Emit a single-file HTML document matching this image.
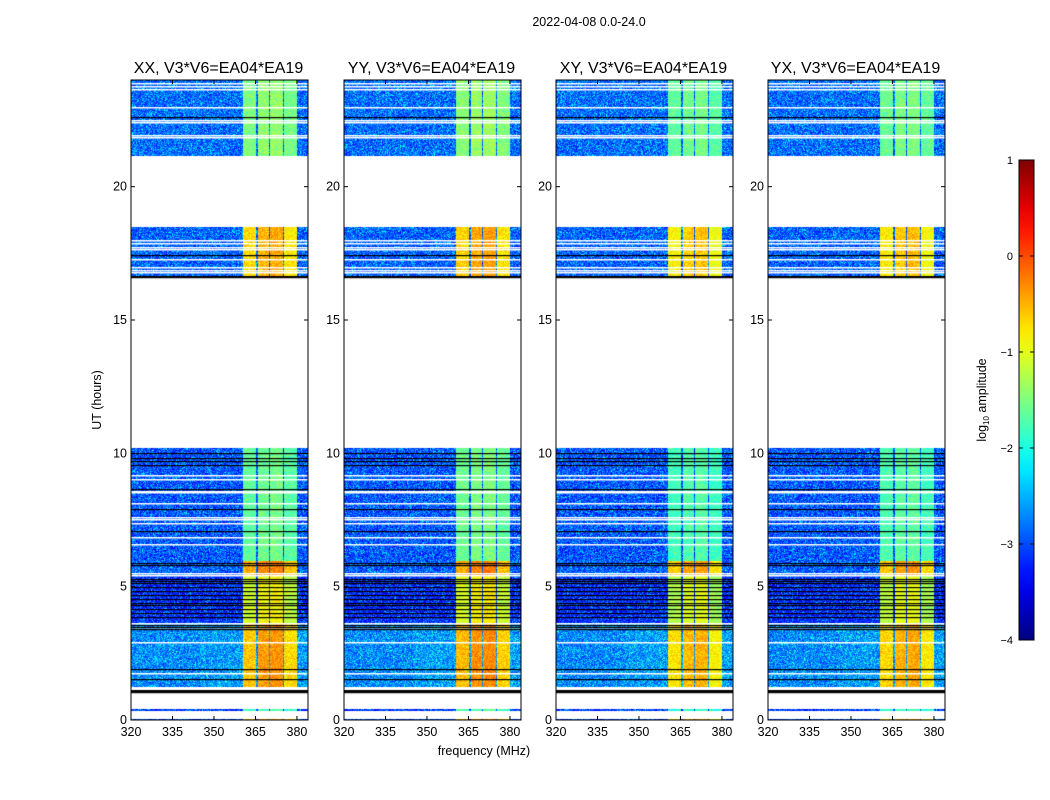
<!DOCTYPE html>
<html><head><meta charset="utf-8">
<style>
body{margin:0;background:#fff;width:1050px;height:800px;overflow:hidden;font-family:"Liberation Sans","DejaVu Sans",sans-serif;}
#root{position:relative;width:1050px;height:800px;}
</style></head><body>
<div id="root">
<svg id="svg" width="1050" height="800" style="position:absolute;left:0;top:0"></svg>
</div>
<script>
// ---- data ----
const panelTitles = ["XX, V3*V6=EA04*EA19","YY, V3*V6=EA04*EA19","XY, V3*V6=EA04*EA19","YX, V3*V6=EA04*EA19"];
const panelBandGain = [0, 0.05, -0.15, -0.1];
const xTicks = [320,335,350,365,380];
const yTicks = [0,5,10,15,20];
const cbTicks = [1,0,-1,-2,-3,-4];
const segStart = [0.0, 0.33, 1.25, 3.6, 5.45, 5.95, 16.6, 21.15];
const segEnd   = [0.05, 0.42, 3.6, 5.45, 5.95, 10.2, 18.5, 24.0];
const segBg    = [-3.0, -3.1, -2.7, -3.15, -2.9, -2.95, -2.9, -2.85];
const segBand  = [-0.6, -1.8, -0.6, -1.1, -0.5, -1.65, -0.7, -1.5];
const subBandStart = [360.4, 365.8, 370.3, 375.3];
const subBandEnd   = [365.3, 369.8, 374.8, 380.0];
const subBandOffset = [0.0, 0.2, 0.25, -0.1];
const whiteLines = [23.9,23.78,23.68,23.0,22.5,22.42,21.92,21.85,18.0,17.88,17.75,17.65,17.3,17.0,16.88,16.8,9.2,9.03,8.6,8.55,8.13,7.6,7.55,7.37,6.85,6.59,5.5,5.45,3.62,3.47,2.91,1.75];
const blackLines = [22.62,17.42,16.66,16.62,10.0,9.82,9.7,9.55,8.66,7.9,7.1,5.88,5.82,5.3,5.22,5.12,4.98,4.85,4.7,4.55,4.4,4.3,4.15,4.02,3.88,3.55,3.5,3.43,1.93,1.55,1.12,1.09,1.06];

// ---- layout ----
const panelX = [131,344,556,768], PW=177, PT=80, PB=720;
const fMin=320, fMax=384;
const xs = (f,i)=>panelX[i]+(f-fMin)/(fMax-fMin)*PW;
const ys = h=>PB-(h/24)*(PB-PT);
const cbX=1019, cbW=15, cbT=160, cbB=640;
const cy = v=>cbT+(1-v)/5*(cbB-cbT);

function jet(v){
  const c=x=>Math.max(0,Math.min(1,x));
  const r=c(1.5-Math.abs(4*v-3)), g=c(1.5-Math.abs(4*v-2)), b=c(1.5-Math.abs(4*v-1));
  return [r*255|0,g*255|0,b*255|0];
}
function hash(a,b){let h=(a*374761393+b*668265263)|0;h=(h^(h>>>13))*1274126177|0;return ((h^(h>>>16))>>>0)/4294967296;}

const NS="http://www.w3.org/2000/svg";
const svg=document.getElementById('svg');
function el(tag,attrs,parent){const e=document.createElementNS(NS,tag);for(const k in attrs)e.setAttribute(k,attrs[k]);(parent||svg).appendChild(e);return e;}
function txt(x,y,s,size,anchor,parent){const e=el('text',{x:x,y:y,'font-size':size,'text-anchor':anchor||'middle','font-family':'Liberation Sans, sans-serif',fill:'#000'},parent);e.textContent=s;return e;}

function levelAt(h,f,i,px,py){
  let seg=-1;
  for(let k=0;k<segStart.length;k++) if(h>=segStart[k]&&h<segEnd[k]) seg=k;
  if(seg<0) return null;
  const n=hash(px+i*1000,py);
  let v=segBg[seg]+(n-0.5)*0.9+(n>0.9?0.3:0);
  if(f>345 && seg===2) v+=0.1;
  for(let b=0;b<4;b++){
    if(f>=subBandStart[b]&&f<subBandEnd[b]){
      v=segBand[seg]+subBandOffset[b]*(segBand[seg]>-1.2?1:0.4)+panelBandGain[i]+(hash(px*7+i,py*3)-0.5)*0.5;
    }
  }
  return v;
}

for(let i=0;i<4;i++){
  const g=el('g',{},svg);
  
  
  const cv=document.createElement('canvas');cv.width=PW;cv.height=PB-PT;
  const ctx=cv.getContext('2d');const im=ctx.createImageData(PW,PB-PT);
  for(let py=0;py<PB-PT;py++){
    const h=24-(py+0.5)/(PB-PT)*24;
    for(let px=0;px<PW;px++){
      const f=fMin+(px+0.5)/PW*(fMax-fMin);
      const v=levelAt(h,f,i,px,py);
      const o=(py*PW+px)*4;
      if(v===null){im.data[o]=255;im.data[o+1]=255;im.data[o+2]=255;im.data[o+3]=255;continue;}
      const c=jet(Math.max(0,Math.min(1,(v+4)/5)));
      im.data[o]=c[0];im.data[o+1]=c[1];im.data[o+2]=c[2];im.data[o+3]=255;
    }
  }
  ctx.putImageData(im,0,0);
  ctx.fillStyle='#fff';
  whiteLines.forEach(h=>{ctx.fillRect(0,Math.round(ys(h)-PT),PW,1.5);});
  ctx.fillStyle='#000';
  blackLines.forEach(h=>{ctx.fillRect(0,Math.round(ys(h)-PT),PW,1.2);});
  const img=el('image',{x:panelX[i],y:PT,width:PW,height:PB-PT,href:cv.toDataURL()},g);
  
  
  el('rect',{x:panelX[i],y:PT,width:PW,height:PB-PT,fill:'none',stroke:'#000','stroke-width':1},g);
  const t=txt(panelX[i]+PW/2-1,73,panelTitles[i],16,'middle',g);
  
  
  xTicks.forEach(f=>{
    const x=xs(f,i);
    el('line',{x1:x,x2:x,y1:PB,y2:PB-4,stroke:'#000'},g);
    el('line',{x1:x,x2:x,y1:PT,y2:PT+4,stroke:'#000'},g);
    const l=txt(x,736,String(f),12.5,'middle',g);
    
    
  });
  yTicks.forEach(h=>{
    const y=ys(h);
    el('line',{x1:panelX[i],x2:panelX[i]+4,y1:y,y2:y,stroke:'#000'},g);
    el('line',{x1:panelX[i]+PW,x2:panelX[i]+PW-4,y1:y,y2:y,stroke:'#000'},g);
    const l=txt(panelX[i]-4,y+4,String(h),12.5,'end',g);
    
    
  });
}
const st=txt(589,26,'2022-04-08 0.0-24.0',12.5);


const xl=txt(484,755,'frequency (MHz)',12.5);


const yl=txt(0,0,'UT (hours)',12.5);yl.setAttribute('transform','translate(101,400) rotate(-90)');



const defs=el('defs',{});
const grad=el('linearGradient',{id:'jetg',x1:0,y1:1,x2:0,y2:0},defs);
for(let k=0;k<=20;k++){const c=jet(k/20);el('stop',{offset:k/20,'stop-color':`rgb(${c[0]},${c[1]},${c[2]})`},grad);}
const cb=el('rect',{x:cbX,y:cbT,width:cbW,height:cbB-cbT,fill:'url(#jetg)',stroke:'#000','stroke-width':1});


cbTicks.forEach(v=>{
  const y=cy(v);
  el('line',{x1:cbX,x2:cbX+4,y1:y,y2:y,stroke:'#000'});
  el('line',{x1:cbX+cbW,x2:cbX+cbW-4,y1:y,y2:y,stroke:'#000'});
  const l=txt(1013,y+4,v<0?'\u2212'+(-v):String(v),11,'end');
  
  
});
const cl=el('text',{'font-size':12.5,'text-anchor':'middle','font-family':'Liberation Sans, sans-serif',transform:'translate(986,400) rotate(-90)'});
cl.innerHTML='log<tspan font-size="8" dy="3">10</tspan><tspan dy="-3"> amplitude</tspan>';


</script>
</body></html>
